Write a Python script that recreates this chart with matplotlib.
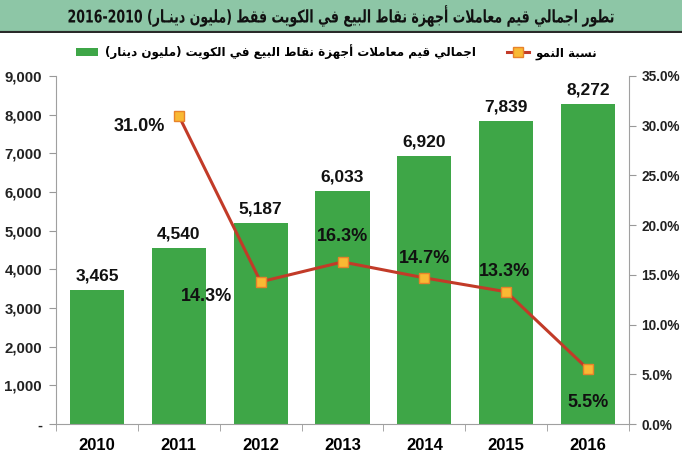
import numpy as np
import matplotlib
matplotlib.use("Agg")
import matplotlib.pyplot as plt
from matplotlib.textpath import TextPath
from matplotlib.patches import PathPatch
from matplotlib.font_manager import FontProperties
from matplotlib.transforms import Affine2D

# data
years = ["2010", "2011", "2012", "2013", "2014", "2015", "2016"]
values = [3465, 4540, 5187, 6033, 6920, 7839, 8272]
growth_years = ["2011", "2012", "2013", "2014", "2015", "2016"]
growth = [31.0, 14.3, 16.3, 14.7, 13.3, 5.5]

title_ar = "تطور اجمالي قيم معاملات أجهزة نقاط البيع في الكويت فقط (مليون دينـار)"
title_num = "2016-2010"
bar_label_ar = "اجمالي قيم معاملات أجهزة نقاط البيع في الكويت (مليون دينار)"
line_label_ar = "نسبة النمو"

# minimal arabic shaping (no arabic_reshaper available)
FORMS = {
    "ء": (0xFE80,), "آ": (0xFE81, 0xFE82), "أ": (0xFE83, 0xFE84), "ؤ": (0xFE85, 0xFE86),
    "إ": (0xFE87, 0xFE88), "ئ": (0xFE89, 0xFE8A, 0xFE8B, 0xFE8C), "ا": (0xFE8D, 0xFE8E),
    "ب": (0xFE8F, 0xFE90, 0xFE91, 0xFE92), "ة": (0xFE93, 0xFE94),
    "ت": (0xFE95, 0xFE96, 0xFE97, 0xFE98), "ث": (0xFE99, 0xFE9A, 0xFE9B, 0xFE9C),
    "ج": (0xFE9D, 0xFE9E, 0xFE9F, 0xFEA0), "ح": (0xFEA1, 0xFEA2, 0xFEA3, 0xFEA4),
    "خ": (0xFEA5, 0xFEA6, 0xFEA7, 0xFEA8), "د": (0xFEA9, 0xFEAA), "ذ": (0xFEAB, 0xFEAC),
    "ر": (0xFEAD, 0xFEAE), "ز": (0xFEAF, 0xFEB0), "س": (0xFEB1, 0xFEB2, 0xFEB3, 0xFEB4),
    "ش": (0xFEB5, 0xFEB6, 0xFEB7, 0xFEB8), "ص": (0xFEB9, 0xFEBA, 0xFEBB, 0xFEBC),
    "ض": (0xFEBD, 0xFEBE, 0xFEBF, 0xFEC0), "ط": (0xFEC1, 0xFEC2, 0xFEC3, 0xFEC4),
    "ظ": (0xFEC5, 0xFEC6, 0xFEC7, 0xFEC8), "ع": (0xFEC9, 0xFECA, 0xFECB, 0xFECC),
    "غ": (0xFECD, 0xFECE, 0xFECF, 0xFED0), "ف": (0xFED1, 0xFED2, 0xFED3, 0xFED4),
    "ق": (0xFED5, 0xFED6, 0xFED7, 0xFED8), "ك": (0xFED9, 0xFEDA, 0xFEDB, 0xFEDC),
    "ل": (0xFEDD, 0xFEDE, 0xFEDF, 0xFEE0), "م": (0xFEE1, 0xFEE2, 0xFEE3, 0xFEE4),
    "ن": (0xFEE5, 0xFEE6, 0xFEE7, 0xFEE8), "ه": (0xFEE9, 0xFEEA, 0xFEEB, 0xFEEC),
    "و": (0xFEED, 0xFEEE), "ى": (0xFEEF, 0xFEF0), "ي": (0xFEF1, 0xFEF2, 0xFEF3, 0xFEF4),
}
LAM_ALEF = {"ا": (0xFEFB, 0xFEFC), "أ": (0xFEF7, 0xFEF8), "إ": (0xFEF9, 0xFEFA), "آ": (0xFEF5, 0xFEF6)}
TATWEEL = "ـ"


def joins_next(c):
    return c == TATWEEL or (c in FORMS and len(FORMS[c]) == 4)


def joins_prev(c):
    return c == TATWEEL or (c in FORMS and len(FORMS[c]) >= 2)


def shape(text):
    # merge lam-alef first
    chars = []
    i = 0
    while i < len(text):
        if text[i] == "ل" and i + 1 < len(text) and text[i + 1] in LAM_ALEF:
            chars.append(("LA", text[i + 1]))
            i += 2
        else:
            chars.append(text[i])
            i += 1
    out = []
    for k, c in enumerate(chars):
        prev = chars[k - 1] if k > 0 else None
        nxt = chars[k + 1] if k + 1 < len(chars) else None
        prev_ok = prev is not None and not isinstance(prev, tuple) and joins_next(prev)
        if isinstance(c, tuple):
            f = LAM_ALEF[c[1]]
            out.append(chr(f[1] if prev_ok else f[0]))
            continue
        if c not in FORMS:
            out.append(c)
            continue
        f = FORMS[c]
        nxt_ok = nxt is not None and (isinstance(nxt, tuple) or joins_prev(nxt))
        a = prev_ok and joins_prev(c)
        b = nxt_ok and joins_next(c)
        if a and b:
            out.append(chr(f[3]))
        elif b:
            out.append(chr(f[2]))
        elif a:
            out.append(chr(f[1]))
        else:
            out.append(chr(f[0]))
    return "".join(out)


def rtl(text):
    vis = shape(text)[::-1]
    return vis.translate(str.maketrans("()", ")("))


green = "#3ea647"
line_c = "#c23b28"
W, H = 682, 459
fig = plt.figure(figsize=(W / 100, H / 100), dpi=100)
fig.patch.set_facecolor("white")

# title band
band = fig.add_axes([0, 1 - 33 / H, 1, 33 / H])
band.set_facecolor("#8dc6a6")
band.set_xticks([])
band.set_yticks([])
for s in band.spines.values():
    s.set_visible(False)
band.axhline(0, color="#2a2a2a", lw=3)

# title drawn as a condensed text path (pixel coords)
em = 17.5
tp = TextPath((0, 0), title_num + " " + rtl(title_ar), size=em,
              prop=FontProperties(family="DejaVu Sans", weight="bold"))
bb = tp.get_extents()
sx = 545 / bb.width
tr = Affine2D().translate(-(bb.x0 + bb.width / 2), 0).scale(sx, 1).translate(W / 2, H - 22.5)
fig.patches.append(PathPatch(tp, transform=tr, facecolor="#111111", edgecolor="none",
                             figure=fig, zorder=5))

ax = fig.add_axes([56 / W, 35 / H, 573 / W, 348 / H])
x = np.arange(len(years))
bars = ax.bar(x, values, width=0.66, color=green, zorder=2, label=rtl(bar_label_ar))
ax.set_xlim(-0.5, len(years) - 0.5)
ax.set_ylim(0, 9000)
ax.set_yticks(np.arange(0, 9001, 1000))
ax.set_yticklabels(["-"] + [f"{v:,}" for v in range(1000, 9001, 1000)])
ax.set_xticks(x)
ax.set_xticklabels(years)
ax.set_xticks(np.arange(-0.5, len(years), 1), minor=True)
ax.tick_params(axis="x", which="major", length=0, pad=10)
ax.tick_params(axis="x", which="minor", length=5, color="#999999", direction="out")
ax.tick_params(axis="y", length=5, color="#999999", pad=5)
for t in ax.get_xticklabels():
    t.set_fontweight("bold")
    t.set_fontsize(12)
    t.set_family("Liberation Sans")
for t in ax.get_yticklabels():
    t.set_fontweight("bold")
    t.set_fontsize(10.8)
    t.set_family("Liberation Sans")
    t.set_color("#222222")
for s in ["top", "right"]:
    ax.spines[s].set_visible(False)
for s in ["left", "bottom"]:
    ax.spines[s].set_color("#a0a0a0")

for b, v in zip(bars, values):
    ax.annotate(f"{v:,}", (b.get_x() + b.get_width() / 2, v), xytext=(0, 14),
                textcoords="offset pixels", ha="center", va="center",
                fontsize=12.5, fontweight="bold", family="Liberation Sans", color="#111111")

ax2 = ax.twinx()
gx = [years.index(y) for y in growth_years]
ax2.plot(gx, growth, color=line_c, lw=2.2, marker="s", markersize=7,
         markerfacecolor="#f9b933", markeredgecolor="#e8822a", markeredgewidth=1,
         zorder=3, label=rtl(line_label_ar))
ax2.set_ylim(0, 35)
ax2.set_yticks(np.arange(0, 35.1, 5))
ax2.set_yticklabels([f"{v:.1f}%" for v in np.arange(0, 35.1, 5)])
ax2.tick_params(axis="y", length=5, color="#999999", pad=4)
for t in ax2.get_yticklabels():
    t.set_fontweight("bold")
    t.set_fontsize(9.8)
    t.set_family("Liberation Sans")
    t.set_color("#222222")
for s in ["top", "left", "bottom"]:
    ax2.spines[s].set_visible(False)
ax2.spines["right"].set_color("#a0a0a0")

offsets = [(-39, -11), (-54, -15), (0, 25), (0, 19), (-2, 20), (0, -33)]
for xi, g, off in zip(gx, growth, offsets):
    ax2.annotate(f"{g:.1f}%", (xi, g), xytext=off, textcoords="offset pixels",
                 ha="center", va="center", fontsize=13, fontweight="bold",
                 family="Liberation Sans", color="#111111")

handles = [bars, ax2.get_lines()[0]]
leg = fig.legend(handles, [h.get_label() for h in handles], ncol=2, loc="center",
                 bbox_to_anchor=(337 / W, 1 - 52 / H), frameon=False,
                 prop={"family": "DejaVu Sans", "weight": "bold", "size": 8.6},
                 handlelength=1.8, handleheight=0.6, columnspacing=2.6, handletextpad=0.6)

fig.savefig("out.png", dpi=100)
